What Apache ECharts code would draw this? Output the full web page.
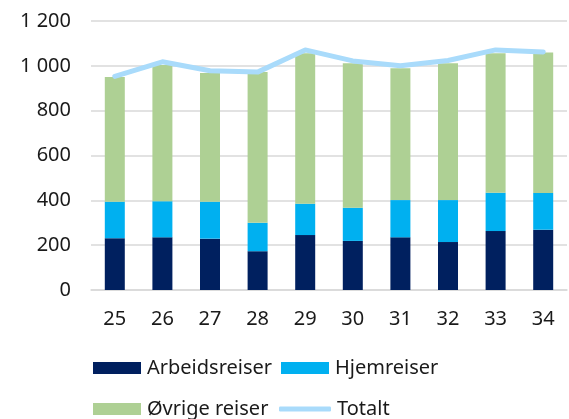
<!DOCTYPE html>
<html><head><meta charset="utf-8">
<script src="https://cdn.jsdelivr.net/npm/echarts@6/dist/echarts.min.js"></script>
<style>html,body{margin:0;padding:0;background:#fff}#c{width:569px;height:419px}</style>
</head><body><div id="c"></div>
<script>
const categories = ['25','26','27','28','29','30','31','32','33','34'];
const arbeidsreiser = [231,235,229,173,245,219,235,214,263,269];
const hjemreiser = [163,161,165,127,140,148,166,187,171,164];
const ovrigeReiser = [556,608,574,672,671,644,588,610,622,626];
const totalt = [953,1018,978,972,1071,1022,1000,1024,1071,1062];
const yTicks = {min:0, max:1200, interval:200};

const font = '"Noto Sans", sans-serif';
const txt = '#1a1a1a';
const chart = echarts.init(document.getElementById('c'));
const legendBase = {itemWidth:48, itemHeight:12, itemGap:0, padding:0,
  textStyle:{fontFamily:font, fontSize:20, color:txt, padding:[0,0,0,1]}};
chart.setOption({
  animation:false,
  grid:{left:91, right:2, top:21, bottom:129},
  legend:[
    Object.assign({}, legendBase, {left:93, top:358, data:[{name:'Arbeidsreiser', icon:'rect'}]}),
    Object.assign({}, legendBase, {left:281, top:358, data:[{name:'Hjemreiser', icon:'rect'}]}),
    Object.assign({}, legendBase, {left:93, top:399, data:[{name:'Øvrige reiser', icon:'rect'}]}),
    Object.assign({}, legendBase, {left:279, top:399, itemWidth:52, itemHeight:5, data:[{name:'Totalt', icon:'roundRect'}]})
  ],
  xAxis:{type:'category', data:categories,
    axisLine:{lineStyle:{color:'#D9D9D9', width:1.5}}, axisTick:{show:false},
    axisLabel:{fontFamily:font, fontSize:20, color:txt, margin:19}},
  yAxis:{type:'value', min:yTicks.min, max:yTicks.max, interval:yTicks.interval,
    axisLine:{show:false}, axisTick:{show:false},
    splitLine:{lineStyle:{color:'#D9D9D9', width:1.5}},
    axisLabel:{fontFamily:font, fontSize:20, color:txt, margin:20,
      formatter:v=>String(v).replace(/\B(?=(\d{3})+(?!\d))/g,' ')}},
  series:[
    {name:'Arbeidsreiser', type:'bar', stack:'s', barWidth:20, data:arbeidsreiser, itemStyle:{color:'#00205F'}},
    {name:'Hjemreiser', type:'bar', stack:'s', barWidth:20, data:hjemreiser, itemStyle:{color:'#00B0F0'}},
    {name:'Øvrige reiser', type:'bar', stack:'s', barWidth:20, data:ovrigeReiser, itemStyle:{color:'#AED094'}},
    {name:'Totalt', type:'line', data:totalt, symbol:'none', z:5,
      lineStyle:{color:'#A9DBFB', width:5, cap:'round', join:'round'}, itemStyle:{color:'#A9DBFB'}}
  ]
});
</script></body></html>
